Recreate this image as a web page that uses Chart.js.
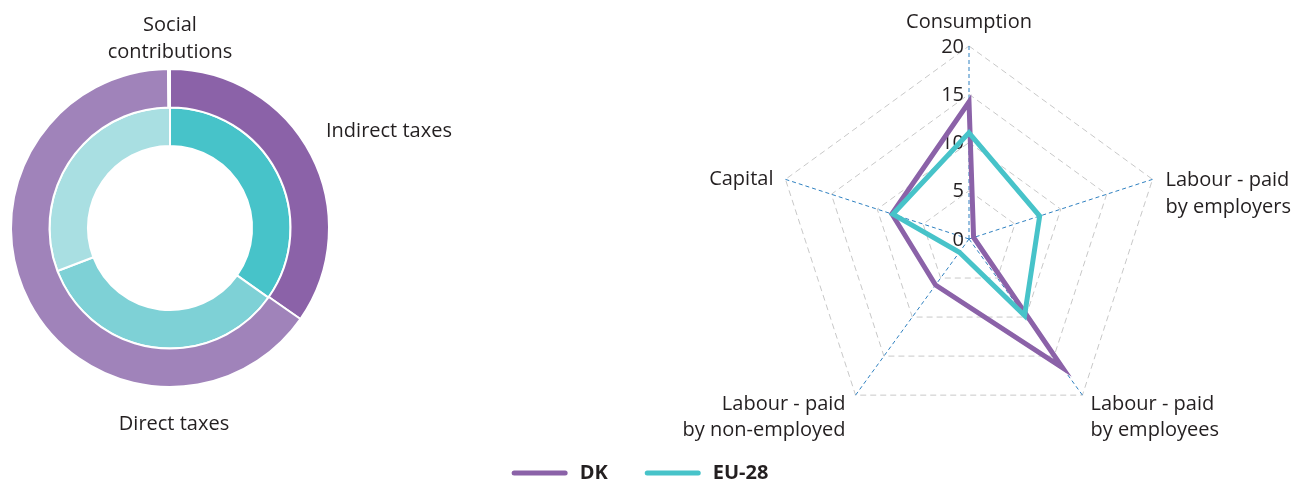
<!DOCTYPE html>
<html>
<head>
<meta charset="utf-8">
<title>Tax structure – DK and EU-28</title>
<script src="https://cdn.jsdelivr.net/npm/chart.js@4.4.1/dist/chart.umd.min.js"></script>
<style>
  html, body { margin: 0; padding: 0; background: #fff; }
  #wrap { position: relative; width: 1295px; height: 483px; overflow: hidden; }
  #wrap canvas { position: absolute; left: 0; top: 0; }
</style>
</head>
<body>
<div id="wrap">
  <canvas id="structChart" width="470" height="483" style="width:470px;height:483px"></canvas>
  <canvas id="radarChart" width="1295" height="483" style="width:1295px;height:483px"></canvas>
</div>
<script>
// ---- data ----
const seriesNames = ['DK', 'EU-28'];

// revenue structure, % of total taxation (outer ring DK, inner ring EU-28)
const structLabels = ['Indirect taxes', 'Direct taxes', ['Social', 'contributions']];
const structDK = [34.7, 65.1, 0.2];
const structEU = [34.8, 34.4, 30.8];

// implicit tax rates
const radarLabels = [
    'Consumption',
    ['Labour - paid', 'by employers'],
    ['Labour - paid', 'by employees'],
    ['Labour - paid', 'by non-employed'],
    'Capital'
];
const radarDK = [14.2, 0.5, 16.5, 5.9, 8.4];
const radarEU = [11.0, 7.7, 9.8, 1.7, 8.3];
const radarTicks = [0, 5, 10, 15, 20];

// ---- styles ----
const TEXT = '#231f20';
const FONT = '"Open Sans", "Noto Sans", sans-serif';
const DK_COL = '#8b62a8';
const EU_COL = '#47c3c9';

// text around the doughnut
const ringLabels = {
    id: 'ringLabels',
    afterDraw(chart) {
        const { ctx } = chart;
        const arc = chart.getDatasetMeta(0).data[0];
        const cx = arc.x, cy = arc.y;
        const spots = [
            { dx: 156, dy: -97, align: 'left' },
            { dx: 4, dy: 196, align: 'center' },
            { dx: 0, dy: -203, align: 'center' }
        ];
        ctx.save();
        ctx.font = '20px ' + FONT;
        ctx.fillStyle = TEXT;
        ctx.textBaseline = 'middle';
        chart.data.labels.forEach((lab, i) => {
            ctx.textAlign = spots[i].align;
            [].concat(lab).forEach((ln, k) => {
                ctx.fillText(ln, cx + spots[i].dx, cy + spots[i].dy + k * 27);
            });
        });
        ctx.restore();
    }
};

// tick numbers sit left of the vertical axis, under the lines
const radarTicksText = {
    id: 'radarTicksText',
    beforeDatasetsDraw(chart) {
        const { ctx } = chart;
        const r = chart.scales.r;
        ctx.save();
        ctx.font = '20px ' + FONT;
        ctx.fillStyle = TEXT;
        ctx.textAlign = 'right';
        ctx.textBaseline = 'middle';
        r.ticks.forEach(t => {
            const d = r.getDistanceFromCenterForValue(t.value);
            ctx.fillText(t.label, r.xCenter - 5, r.yCenter - d + 1);
        });
        ctx.restore();
    }
};

// axis titles + legend
const radarText = {
    id: 'radarText',
    afterDraw(chart) {
        const { ctx } = chart;
        const r = chart.scales.r;
        const spots = [
            { dx: 0, dy: -24, align: 'center' },
            { dx: 13, dy: 1, align: 'left' },
            { dx: 8, dy: 9, align: 'left' },
            { dx: -10, dy: 9, align: 'right' },
            { dx: -12, dy: 0, align: 'right' }
        ];
        ctx.save();
        ctx.font = '20px ' + FONT;
        ctx.fillStyle = TEXT;
        ctx.textBaseline = 'middle';
        chart.data.labels.forEach((lab, i) => {
            const p = r.getPointPosition(i, r.drawingArea);
            ctx.textAlign = spots[i].align;
            [].concat(lab).forEach((ln, k) => {
                ctx.fillText(ln, p.x + spots[i].dx, p.y + spots[i].dy + k * 26.5);
            });
        });

        // legend
        ctx.font = 'bold 20px ' + FONT;
        const sets = chart.data.datasets;
        const lineW = 56, gapTxt = 12, gapItem = 37;
        let total = 0;
        sets.forEach((ds, i) => {
            total += lineW + gapTxt + ctx.measureText(ds.label).width + (i < sets.length - 1 ? gapItem : 0);
        });
        let x = 640 - total / 2;
        const y = 473;
        ctx.textAlign = 'left';
        sets.forEach(ds => {
            ctx.strokeStyle = ds.borderColor;
            ctx.lineWidth = 5;
            ctx.lineCap = 'round';
            ctx.beginPath();
            ctx.moveTo(x + 2.5, y);
            ctx.lineTo(x + lineW - 2.5, y);
            ctx.stroke();
            x += lineW + gapTxt;
            ctx.fillText(ds.label, x, y);
            x += ctx.measureText(ds.label).width + gapItem;
        });
        ctx.restore();
    }
};

new Chart(document.getElementById('structChart'), {
    type: 'doughnut',
    data: {
        labels: structLabels,
        datasets: [
            {
                label: seriesNames[0],
                data: structDK,
                backgroundColor: [DK_COL, '#a083ba', '#c2b0d6'],
                borderColor: '#fff',
                borderWidth: 2
            },
            {
                label: seriesNames[1],
                data: structEU,
                backgroundColor: [EU_COL, '#7ed1d6', '#a9dfe2'],
                borderColor: '#fff',
                borderWidth: 2
            }
        ]
    },
    options: {
        responsive: false,
        animation: false,
        radius: 159,
        cutout: '51.6%',
        layout: { padding: { right: 130, bottom: 27 } },
        plugins: { legend: { display: false }, tooltip: { enabled: false } }
    },
    plugins: [ringLabels]
});

const lineStyle = { borderWidth: 5, fill: false, tension: 0, borderJoinStyle: 'miter', pointRadius: 0, pointHoverRadius: 0 };

new Chart(document.getElementById('radarChart'), {
    type: 'radar',
    data: {
        labels: radarLabels,
        datasets: [
            { label: seriesNames[0], data: radarDK, borderColor: DK_COL, order: 2, ...lineStyle },
            { label: seriesNames[1], data: radarEU, borderColor: EU_COL, order: 1, ...lineStyle }
        ]
    },
    options: {
        responsive: false,
        animation: false,
        layout: { padding: { left: 776, top: 46, right: 133, bottom: 51 } },
        plugins: { legend: { display: false }, tooltip: { enabled: false } },
        scales: {
            r: {
                min: radarTicks[0],
                max: radarTicks[radarTicks.length - 1],
                ticks: { stepSize: 5, display: false },
                pointLabels: { display: false },
                grid: { color: '#c8c8c8', lineWidth: 1 },
                border: { dash: [6, 4] },
                angleLines: { color: '#2f80c0', lineWidth: 1, borderDash: [4, 3] }
            }
        }
    },
    plugins: [radarTicksText, radarText]
});
</script>
</body>
</html>
